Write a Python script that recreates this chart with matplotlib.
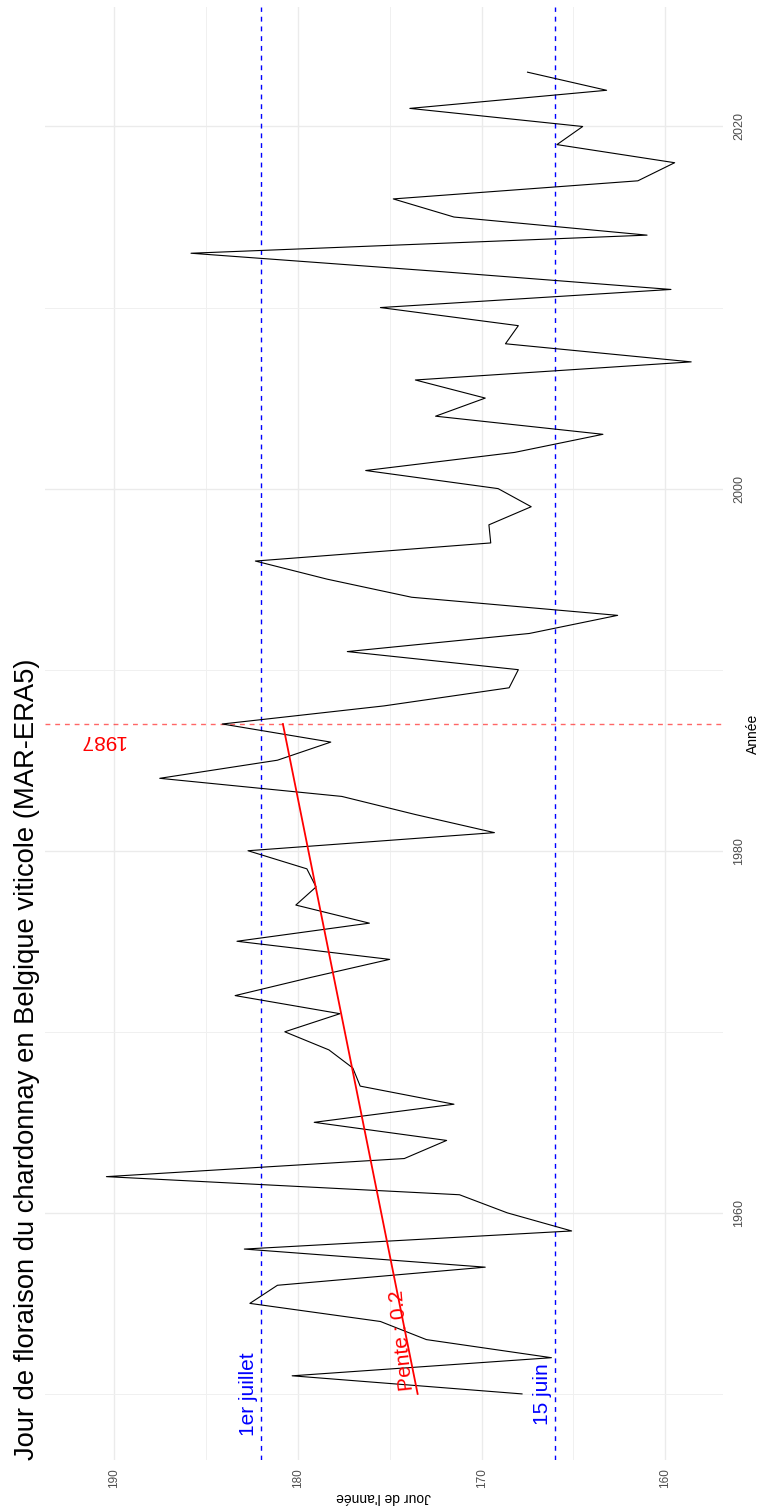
import numpy as np
import matplotlib
matplotlib.use("Agg")
import matplotlib.pyplot as plt

plt.rcParams['font.family'] = ['Liberation Sans', 'DejaVu Sans']

# Flowering day of year for chardonnay, Belgian wine region (MAR-ERA5)
years = np.arange(1950, 2024)
flowering_day = [
    167.8, 180.3, 166.2, 173.0, 175.5, 182.6, 181.1, 169.8, 182.9, 165.1,  # 1950-1959
    168.6, 171.2, 190.4, 174.2, 171.9, 179.1, 171.5, 176.6, 177.0, 178.3,  # 1960-1969
    180.7, 177.7, 183.4, 179.3, 175.0, 183.3, 176.1, 180.1, 179.0, 179.5,  # 1970-1979
    182.7, 169.3, 173.6, 177.6, 187.5, 181.1, 178.2, 184.1, 175.3, 168.5,  # 1980-1989
    168.0, 177.3, 167.4, 162.6, 173.8, 178.4, 182.3, 169.5, 169.6, 167.3,  # 1990-1999
    169.1, 176.3, 168.2, 163.4, 172.5, 169.8, 173.6, 158.6, 168.7, 168.0,  # 2000-2009
    175.5, 159.7, 172.4, 185.8, 161.0, 171.5, 174.8, 161.5, 159.5, 165.9,  # 2010-2019
    164.5, 173.9, 163.2, 167.5,                                            # 2020-2023
]

trend_start, trend_end = 1950, 1987
break_year = 1987
threshold_days = [182, 166]
threshold_labels = ["1er juillet", "15 juin"]
year_ticks = [1960, 1980, 2000, 2020]
year_minor = [1950, 1970, 1990, 2010]
day_ticks = [160, 170, 180, 190]
day_minor = [165, 175, 185]

title = "Jour de floraison du chardonnay en Belgique viticole (MAR-ERA5)"

W, H = 760, 1511
fig = plt.figure(figsize=(W / 100, H / 100), dpi=100)

def fx(px):
    return px / W

def fy(py):
    return 1 - py / H

# panel in pixel box
left, right, top, bottom = 45, 723, 7, 1460
ax = fig.add_axes([fx(left), fy(bottom), fx(right - left), (bottom - top) / H])

years_arr = np.asarray(years)
days_arr = np.asarray(flowering_day)

# grid
for d in day_ticks:
    ax.axvline(d, color='#ebebeb', lw=1.0, zorder=0)
for d in day_minor:
    ax.axvline(d, color='#f0f0f0', lw=0.7, zorder=0)
for y in year_ticks:
    ax.axhline(y, color='#ebebeb', lw=1.0, zorder=0)
for y in year_minor:
    ax.axhline(y, color='#f0f0f0', lw=0.7, zorder=0)

# series
ax.plot(days_arr, years_arr, color='black', lw=0.8, zorder=3)

# threshold dates
for d in threshold_days:
    ax.axvline(d, color='#0000ff', lw=1.0, linestyle=(0, (3.5, 3.5)), zorder=2)

# break year
ax.axhline(break_year, color='red', alpha=0.6, lw=1.0, linestyle=(0, (3.5, 3.5)), zorder=2)

# linear trend over the first period
mask = (years_arr >= trend_start) & (years_arr <= trend_end)
slope, intercept = np.polyfit(years_arr[mask], days_arr[mask], 1)
ty = np.array([trend_start, trend_end])
ax.plot(slope * ty + intercept, ty, color='red', lw=1.3, zorder=4)

ax.set_xlim(193.74, 156.87)
ax.set_ylim(1946.35, 2026.6)

for s in ax.spines.values():
    s.set_visible(False)

ax.set_xticks(day_ticks)
ax.set_xticklabels([str(d) for d in day_ticks], rotation=90, fontsize=8.5,
                   color='#4d4d4d', va='top', ha='center')
ax.set_yticks(year_ticks)
ax.yaxis.tick_right()
ax.set_yticklabels([str(y) for y in year_ticks], rotation=90, fontsize=9,
                   color='#4d4d4d', va='center', ha='left')
ax.tick_params(axis='x', length=0, pad=5.8)
ax.tick_params(axis='y', length=0, pad=7.2)

# annotations
for d, lab in zip(threshold_days, threshold_labels):
    ax.annotate(lab, xy=(d, 1950.0), xytext=(-3, 0), textcoords='offset pixels',
                rotation=90, ha='right', va='center', color='#0000ff', fontsize=15)

ax.text(174.33, 1952.98, f"Pente : {slope:.1f}", rotation=96, rotation_mode='anchor',
        ha='center', va='center', color='red', fontsize=15)

ax.text(190.64, 1986.1, str(break_year), rotation=180, ha='center', va='center',
        color='red', fontsize=15)

# axis titles
fig.text(fx((left + right) / 2), fy(1497), "Jour de l'année", rotation=180,
         ha='center', va='center', fontsize=10, color='black')
fig.text(fx(753), fy((top + bottom) / 2), "Année", rotation=90,
         ha='center', va='center', fontsize=10, color='black')

# title
fig.text(fx(27), fy(bottom), title, rotation=90, ha='center', va='bottom',
         fontsize=19.7, color='black')

fig.savefig("out.png", dpi=100, facecolor='white')
